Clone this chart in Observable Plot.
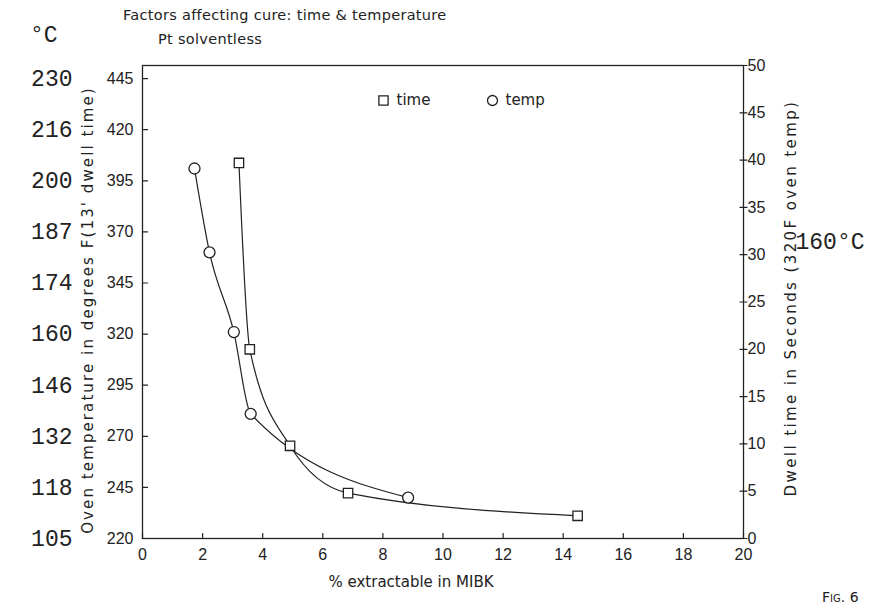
<!DOCTYPE html>
<html><head><meta charset="utf-8">
<script src="https://cdn.jsdelivr.net/npm/d3@7"></script>
<script src="https://cdn.jsdelivr.net/npm/@observablehq/plot@0.6"></script>
<style>
body{margin:0;background:#fff;}
#wrap{position:relative;width:873px;height:615px;overflow:hidden;font-family:"Liberation Sans",sans-serif;color:#222;background:#fff;}
#header{position:relative;height:55px;}
.t{position:absolute;white-space:nowrap;line-height:1;}
#chart svg{display:block;}
</style></head><body>
<div id="wrap">
<div id="header">
 <div class="t" style="left:123px;top:8px;font-size:14.5px;letter-spacing:0.3px;font-family:'DejaVu Sans'">Factors affecting cure: time &amp; temperature</div>
 <div class="t" style="left:158px;top:32px;font-size:14.5px;letter-spacing:0.3px;font-family:'DejaVu Sans'">Pt solventless</div>
 <div class="t" style="left:30px;top:25px;font-size:23px;font-family:'Liberation Mono'">°C</div>
</div>
<div id="chart"></div>
<div class="t" style="left:822px;top:590px;font-size:14px;font-variant:small-caps;font-family:'DejaVu Sans'">Fig. 6</div>
</div>
<script>
// ---- data ----
const tempX = [1.73, 2.23, 3.04, 3.60, 8.84];      // % extractable in MIBK
const tempF = [401, 360, 321, 281, 240];           // oven temperature, °F
const timeX = [3.21, 3.57, 4.91, 6.84, 14.48];     // % extractable in MIBK
const timeSec = [39.7, 20.0, 9.8, 4.8, 2.4];       // dwell time, seconds
const xTicks = [0, 2, 4, 6, 8, 10, 12, 14, 16, 18, 20];
const fTicks = [220, 245, 270, 295, 320, 345, 370, 395, 420, 445];
const celsiusLabels = ["105", "118", "132", "146", "160", "174", "187", "200", "216", "230"];
const secTicks = [0, 5, 10, 15, 20, 25, 30, 35, 40, 45, 50];
const xLabel = "% extractable in MIBK";
const yLeftLabel = "Oven temperature in degrees F(13' dwell time)";
const yRightLabel = "Dwell time in Seconds (320F oven temp)";
const noteC = "160°C";
const legendTime = "time";
const legendTemp = "temp";

// right axis (seconds) mapped onto the left (°F) scale
const F0 = 220, F_PER_SEC = 4.628;
const secToF = s => F0 + s * F_PER_SEC;

const tempRows = tempX.map((x, i) => ({x, f: tempF[i]}));
const timeRows = timeX.map((x, i) => ({x, f: secToF(timeSec[i])}));

const ink = "#222";
const tickShape = {draw(ctx, l) { ctx.moveTo(0, 0); ctx.lineTo(0, -l); }};
const frameLeft = 142, frameTop = 65;

const plot = Plot.plot({
  width: 873,
  height: 560,
  marginLeft: 142,
  marginRight: 130,
  marginTop: 10,
  marginBottom: 77,
  x: {domain: [0, 20]},
  y: {domain: [F0, secToF(50)]},
  style: {fontFamily: "Liberation Sans", fontSize: "16px", color: ink, background: "white"},
  marks: [
    Plot.frame({stroke: ink, strokeWidth: 1.3}),
    // inward ticks
    Plot.vector(fTicks, {y: d => d, frameAnchor: "left", rotate: 90, length: 5, anchor: "start", shape: tickShape, stroke: ink, strokeWidth: 1.2}),
    Plot.vector(secTicks.map(secToF), {y: d => d, frameAnchor: "right", rotate: 90, length: 7, anchor: "middle", shape: tickShape, stroke: ink, strokeWidth: 1.2}),
    Plot.vector(xTicks, {x: d => d, frameAnchor: "bottom", rotate: 0, length: 5, anchor: "start", shape: tickShape, stroke: ink, strokeWidth: 1.2}),
    // axes labels
    Plot.axisY(fTicks, {anchor: "left", tickSize: 0, tickPadding: 9, label: null, fontSize: 16}),
    Plot.axisY(secTicks.map(secToF), {anchor: "right", tickSize: 0, tickPadding: 4, label: null, fontSize: 16,
      tickFormat: d => String(Math.round((d - F0) / F_PER_SEC))}),
    Plot.axisX(xTicks, {anchor: "bottom", tickSize: 0, tickPadding: 10, label: null, fontSize: 16}),
    // Celsius column
    Plot.text(fTicks, {y: d => d, text: (d, i) => celsiusLabels[i], frameAnchor: "left", dx: -70, textAnchor: "end",
      fontFamily: "Liberation Mono", fontSize: 23, fill: ink}),
    // axis titles
    Plot.text([xLabel], {text: d => d, frameAnchor: "bottom", dx: -32, dy: 44, textAnchor: "middle", lineAnchor: "middle", fontFamily: "DejaVu Sans", fontSize: 15, fill: ink}),
    Plot.text([yLeftLabel], {text: d => d, frameAnchor: "left", dx: -54, dy: 8, rotate: -90, textAnchor: "middle", lineAnchor: "middle", fontFamily: "DejaVu Sans", fontSize: 15, fill: ink}),
    Plot.text([yRightLabel], {text: d => d, frameAnchor: "right", dx: 48, dy: -4, rotate: -90, textAnchor: "middle", lineAnchor: "middle", fontFamily: "DejaVu Sans", fontSize: 15, fill: ink}),
    Plot.text([noteC], {text: d => d, frameAnchor: "top-right", dx: 52, dy: 176, textAnchor: "start", lineAnchor: "middle", fontFamily: "Liberation Mono", fontSize: 23, fill: ink}),
    // curves
    Plot.line(timeRows, {x: "x", y: "f", curve: "monotone-x", stroke: ink, strokeWidth: 1.2}),
    Plot.line(tempRows, {x: "x", y: "f", curve: "monotone-x", stroke: ink, strokeWidth: 1.2}),
    Plot.dot(timeRows, {x: "x", y: "f", symbol: "square", r: 5.3, fill: "white", stroke: ink, strokeWidth: 1.3}),
    Plot.dot(tempRows, {x: "x", y: "f", symbol: "circle", r: 5.5, fill: "white", stroke: ink, strokeWidth: 1.3}),
    // legend
    Plot.dot([legendTime], {frameAnchor: "top-left", dx: 383 - frameLeft, dy: 100 - frameTop, symbol: "square", r: 5.2, fill: "white", stroke: ink, strokeWidth: 1.3}),
    Plot.text([legendTime], {text: d => d, frameAnchor: "top-left", dx: 396 - frameLeft, dy: 100 - frameTop, textAnchor: "start", lineAnchor: "middle", fontFamily: "DejaVu Sans", fontSize: 15, fill: ink}),
    Plot.dot([legendTemp], {frameAnchor: "top-left", dx: 492 - frameLeft, dy: 100 - frameTop, symbol: "circle", r: 5, fill: "white", stroke: ink, strokeWidth: 1.3}),
    Plot.text([legendTemp], {text: d => d, frameAnchor: "top-left", dx: 505 - frameLeft, dy: 100 - frameTop, textAnchor: "start", lineAnchor: "middle", fontFamily: "DejaVu Sans", fontSize: 15, fill: ink})
  ]
});
// widen the plotter-style axis titles
d3.select(plot).selectAll("text").each(function() {
  const s = this.textContent;
  if (s === yLeftLabel) this.setAttribute("letter-spacing", "2.1");
  if (s === yRightLabel) this.setAttribute("letter-spacing", "2.4");
});
document.getElementById("chart").appendChild(plot);
</script>
</body></html>
